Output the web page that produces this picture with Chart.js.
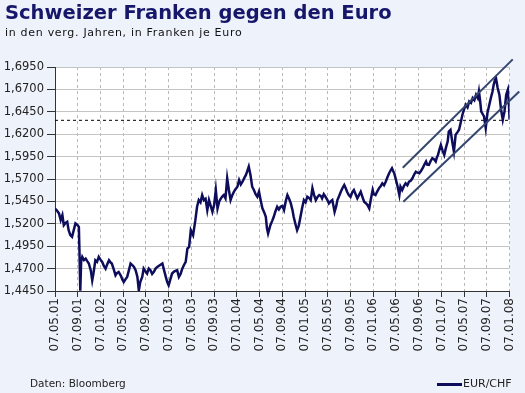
<!DOCTYPE html>
<html>
<head>
<meta charset="utf-8">
<script src="https://cdn.jsdelivr.net/npm/chart.js@4.4.1/dist/chart.umd.min.js"></script>
<style>
  html, body { margin: 0; padding: 0; background: #eef2fb; }
  #wrap { position: relative; width: 525px; height: 393px; overflow: hidden; background: #eef2fb;
          font-family: "DejaVu Sans", Verdana, sans-serif; }
  #c { position: absolute; left: 0; top: 0; }
  .t { position: absolute; white-space: nowrap; line-height: 1; }
  #title { left: 5px; top: 3px; font-size: 19.5px; font-weight: bold; color: #16166a; }
  #sub { left: 5px; top: 27px; font-size: 11px; letter-spacing: 0.7px; color: #111; }
  #src { left: 30px; top: 378px; font-size: 10.5px; color: #222; }
  #legLine { position: absolute; left: 437px; top: 383px; width: 25px; height: 3px; background: #0d0d5c; }
  #legText { left: 463px; top: 378px; font-size: 11px; color: #222; }
</style>
</head>
<body>
<div id="wrap">
  <canvas id="c" width="525" height="393"></canvas>
  <div class="t" id="title">Schweizer Franken gegen den Euro</div>
  <div class="t" id="sub">in den verg. Jahren, in Franken je Euro</div>
  <div class="t" id="src">Daten: Bloomberg</div>
  <div id="legLine"></div>
  <div class="t" id="legText">EUR/CHF</div>
</div>
<script>
// x tick labels (every 4 months starting 07.05.01)
const xTickLabels = ['07.05.01','07.09.01','07.01.02','07.05.02','07.09.02','07.01.03','07.05.03',
  '07.09.03','07.01.04','07.05.04','07.09.04','07.01.05','07.05.05','07.09.05','07.01.06','07.05.06',
  '07.09.06','07.01.07','07.05.07','07.09.07','07.01.08'];
const yTickValues = [1.445, 1.470, 1.495, 1.520, 1.545, 1.570, 1.595, 1.620, 1.645, 1.670, 1.695];

// EUR/CHF: position in months since 07.05.01, and rate
const monthOffsets = [
  0, 0.3, 0.7, 1.0, 1.3, 1.55, 1.85, 2.15, 2.4, 2.7, 3.0, 3.3, 3.6, 3.9, 4.2,
  4.3, 4.45, 4.6, 4.8, 5.1, 5.4, 5.7, 5.95, 6.3, 6.55, 6.8, 7.1, 7.4, 7.7, 8.0, 8.3, 8.6, 8.9,
  9.2, 9.5, 9.75, 10.0, 10.3, 10.65, 10.9, 11.2, 11.6, 11.85, 12.1, 12.4, 12.7, 13.0, 13.3, 13.6, 13.9,
  14.2, 14.5, 14.75, 15.0, 15.35, 15.6, 15.9, 16.2, 16.5, 16.8, 17.1, 17.4, 17.7, 18.0, 18.5, 18.9,
  19.2, 19.5, 19.75, 20.0, 20.3, 20.6, 21.0, 21.5, 21.8, 22.1, 22.4, 22.7, 23.0, 23.3, 23.6, 23.9,
  24.3, 24.7, 25.0, 25.3, 25.6, 25.9, 26.2, 26.5, 26.8, 27.1, 27.4, 27.7, 28.0, 28.3, 28.6, 28.9, 29.2, 29.5, 29.7,
  30.0, 30.3, 30.6, 30.9, 31.2, 31.5, 31.8, 32.1, 32.4, 32.7, 33.0, 33.3, 33.6, 33.85, 34.1, 34.4, 34.7, 35.0, 35.3, 35.6, 35.9,
  36.2, 36.5, 36.8, 37.1, 37.3, 37.5, 37.9, 38.2, 38.5, 38.8, 39.1, 39.4, 39.7, 40.0, 40.3, 40.6, 40.9, 41.2, 41.5, 41.8,
  42.0, 42.3, 42.6, 42.9, 43.2, 43.5, 43.8, 44.1, 44.4, 44.7, 45.0, 45.3, 45.6, 45.9, 46.2, 46.5, 46.8, 47.0, 47.3, 47.6, 47.9,
  48.2, 48.5, 48.8, 49.0, 49.2, 49.5, 49.7, 50.0, 50.3, 50.6, 50.9, 51.2, 51.4, 51.7, 52.0, 52.3, 52.6, 52.9, 53.2, 53.5, 53.8,
  54.1, 54.4, 54.7, 55.0, 55.3, 55.6, 55.9, 56.1, 56.4, 56.7, 57.0, 57.3, 57.6, 57.9, 58.2, 58.5, 58.8, 59.1, 59.3, 59.5, 59.7,
  60.0, 60.3, 60.6, 60.8, 61.1, 61.4, 61.7, 62.0, 62.3, 62.6, 62.9, 63.2, 63.5, 63.8, 64.1, 64.4, 64.7, 65.0, 65.3, 65.5, 65.8,
  66.1, 66.4, 66.7, 67.0, 67.2, 67.4, 67.7, 67.9, 68.2, 68.5, 68.8, 69.1, 69.3, 69.6, 69.9, 70.2, 70.5, 70.8, 71.1, 71.4, 71.7,
  72.0, 72.3, 72.6, 72.9, 73.2, 73.5, 73.8, 74.1, 74.4, 74.6, 74.8, 75.0, 75.3, 75.5, 75.8, 76.1, 76.4,
  76.7, 77.0, 77.2, 77.4, 77.6, 77.9, 78.2, 78.5, 78.8, 79.1, 79.4, 79.7, 79.9, 80.0
];
const eurChf = [
  1.537, 1.535, 1.5316, 1.5241, 1.5297, 1.5185, 1.521, 1.5222, 1.5129, 1.5073, 1.5054, 1.5129, 1.5204, 1.519, 1.5166,
  1.4905, 1.4452, 1.478, 1.483, 1.4795, 1.4811, 1.478, 1.4757, 1.468, 1.457, 1.466, 1.4793, 1.4775, 1.483, 1.480, 1.4775, 1.473, 1.470,
  1.475, 1.4793, 1.477, 1.4757, 1.470, 1.4626, 1.465, 1.4663, 1.462, 1.458, 1.4551, 1.458, 1.4607, 1.468, 1.4757, 1.474, 1.4719,
  1.468, 1.4607, 1.4455, 1.455, 1.4607, 1.470, 1.467, 1.4645, 1.470, 1.4682, 1.464, 1.4663, 1.470, 1.4719, 1.474, 1.4757,
  1.468, 1.4607, 1.455, 1.4514, 1.458, 1.4645, 1.467, 1.4682, 1.4607, 1.464, 1.470, 1.474, 1.4775, 1.4924, 1.4942, 1.5129,
  1.5073, 1.5241, 1.539, 1.5465, 1.544, 1.5521, 1.5465, 1.548, 1.5353, 1.5465, 1.540, 1.5334, 1.5409, 1.5577, 1.5372, 1.545, 1.5484, 1.551, 1.5521,
  1.5484, 1.5708, 1.5577, 1.5465, 1.552, 1.5558, 1.559, 1.5614, 1.5689, 1.564, 1.567, 1.571, 1.5745, 1.579, 1.5838, 1.5745, 1.5614, 1.5577, 1.553, 1.5502, 1.5558,
  1.546, 1.5372, 1.533, 1.5278, 1.515, 1.5092, 1.5185, 1.523, 1.5278, 1.534, 1.539, 1.536, 1.539, 1.540, 1.5353, 1.545, 1.5521, 1.548, 1.5428, 1.535,
  1.5278, 1.520, 1.5129, 1.518, 1.5278, 1.538, 1.5465, 1.544, 1.5502, 1.549, 1.5465, 1.5596, 1.552, 1.5465, 1.550, 1.5521, 1.551, 1.5484, 1.553, 1.5502, 1.547,
  1.5428, 1.545, 1.5465, 1.540, 1.5334, 1.540, 1.5465, 1.551, 1.5558, 1.560, 1.5633, 1.559, 1.5558, 1.552, 1.550, 1.555, 1.5577, 1.553, 1.5484, 1.552, 1.5558,
  1.550, 1.5446, 1.543, 1.5409, 1.5372, 1.548, 1.5577, 1.553, 1.5521, 1.556, 1.5596, 1.562, 1.5652, 1.563, 1.567, 1.572, 1.5764, 1.580, 1.582, 1.579, 1.5764,
  1.569, 1.5614, 1.5521, 1.5614, 1.5577, 1.562, 1.5652, 1.563, 1.567, 1.568, 1.5708, 1.575, 1.5782, 1.577, 1.5764, 1.579, 1.582, 1.586, 1.5895, 1.586, 1.5857,
  1.590, 1.5932, 1.592, 1.5895, 1.594, 1.5969, 1.604, 1.6081, 1.602, 1.5969, 1.605, 1.6118, 1.623, 1.6249, 1.6118, 1.6006, 1.6193, 1.622, 1.6249, 1.633, 1.6417,
  1.648, 1.6529, 1.650, 1.6566, 1.655, 1.6604, 1.658, 1.6641, 1.6604, 1.6678, 1.658, 1.6454, 1.642, 1.6398, 1.6268, 1.6436, 1.652,
  1.6604, 1.668, 1.6753, 1.680, 1.6827, 1.6716, 1.6641, 1.6473, 1.6361, 1.6454, 1.6641, 1.6697, 1.651, 1.6361
];

// dashed reference level
const referenceX = [0, 80];
const referenceLevel = 1.6355;
// trend channel (upper and lower line), months since 07.05.01 and rate
const channelUpperX = [61.2, 80.55];
const channelUpperY = [1.5826, 1.7035];
const channelLowerX = [61.3, 81.7];
const channelLowerY = [1.5446, 1.6677];

if (monthOffsets.length !== eurChf.length) {
  console.error('length mismatch', monthOffsets.length, eurChf.length);
}

const toPoints = (xs, ys) => xs.map((x, i) => ({ x: x, y: ys[i] }));

const plotBackground = {
  id: 'plotBackground',
  beforeDraw(chart) {
    const { ctx, chartArea: a } = chart;
    ctx.save();
    ctx.fillStyle = '#ffffff';
    ctx.fillRect(a.left, a.top, a.right - a.left, a.bottom - a.top);
    ctx.restore();
  }
};

new Chart(document.getElementById('c'), {
  type: 'line',
  data: {
    datasets: [
      {
        label: 'EUR/CHF',
        data: toPoints(monthOffsets, eurChf),
        borderColor: '#0d0d5c',
        borderWidth: 2.5,
        pointRadius: 0,
        tension: 0,
        order: 1
      },
      {
        label: 'Referenz',
        data: referenceX.map(x => ({ x: x, y: referenceLevel })),
        borderColor: '#000000',
        borderWidth: 1,
        borderDash: [3, 3],
        pointRadius: 0,
        order: 3
      },
      {
        label: 'Trendkanal oben',
        data: toPoints(channelUpperX, channelUpperY),
        borderColor: '#34466e',
        borderWidth: 2,
        pointRadius: 0,
        clip: false,
        order: 0
      },
      {
        label: 'Trendkanal unten',
        data: toPoints(channelLowerX, channelLowerY),
        borderColor: '#34466e',
        borderWidth: 2,
        pointRadius: 0,
        clip: false,
        order: 0
      }
    ]
  },
  options: {
    responsive: false,
    animation: false,
    devicePixelRatio: 1,
    layout: { padding: { top: 67, right: 15, bottom: 0, left: 0 } },
    plugins: { legend: { display: false }, tooltip: { enabled: false } },
    scales: {
      x: {
        type: 'linear',
        min: 0,
        max: 80,
        afterBuildTicks: s => { s.ticks = xTickLabels.map((_, i) => ({ value: i * 4 })); },
        afterFit: s => { s.height = 102; },
        ticks: {
          autoSkip: false,
          maxRotation: 90,
          minRotation: 90,
          padding: 1,
          color: '#222222',
          font: { family: 'DejaVu Sans', size: 12 },
          callback: v => xTickLabels[Math.round(v / 4)]
        },
        grid: { color: '#b8b8b8', lineWidth: 1, tickLength: 6, tickColor: '#333333' },
        border: { display: true, color: '#333333', width: 1, dash: [3, 3] }
      },
      y: {
        type: 'linear',
        min: 1.445,
        max: 1.695,
        afterBuildTicks: s => { s.ticks = yTickValues.map(v => ({ value: v })); },
        afterFit: s => { s.width = 55; },
        ticks: {
          padding: 3,
          color: '#222222',
          font: { family: 'DejaVu Sans', size: 11.5 },
          callback: v => v.toFixed(4).replace('.', ',')
        },
        grid: { color: '#c4c4c4', lineWidth: 1, tickLength: 8, tickColor: '#333333' },
        border: { display: true, color: '#333333', width: 1 }
      }
    }
  },
  plugins: [plotBackground]
});
</script>
</body>
</html>
